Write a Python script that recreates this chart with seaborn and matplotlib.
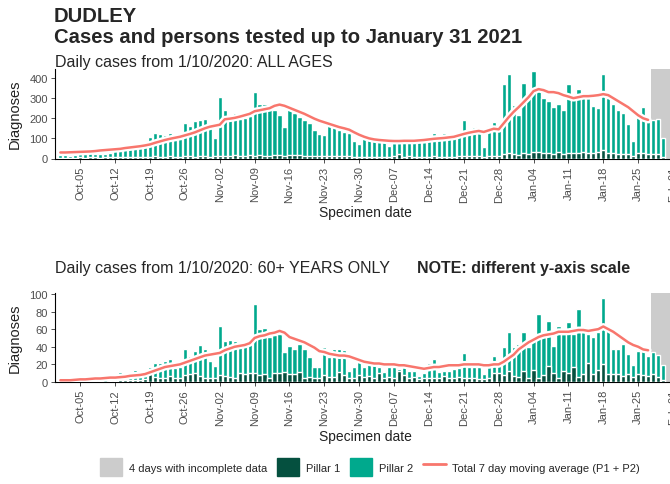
import numpy as np
import pandas as pd
import matplotlib
matplotlib.use('Agg')
import matplotlib.pyplot as plt
import matplotlib.patheffects as pe
from matplotlib.patches import Patch
from matplotlib.lines import Line2D
import seaborn as sns

sns.set_style('white')
plt.rcParams['font.family'] = ['Liberation Sans', 'DejaVu Sans']

# dates: bars from 1 Oct 2020 to 30 Jan 2021, moving average up to 27 Jan
dates = pd.date_range('2020-10-01', '2021-01-30', freq='D')
tick_dates = pd.date_range('2020-10-05', '2021-02-01', freq='7D')

# all ages: total daily cases (pillar 1 + pillar 2) and pillar 1
all_total = [15, 17, 14, 18, 20, 22, 25, 23, 20, 22, 28, 63, 45, 68, 48, 72, 50, 55, 105, 125, 120, 118, 125, 90, 95, 175, 160, 185, 190, 198, 150,
             102, 305, 240, 190, 225, 195, 200, 210, 333, 270, 270, 245, 242, 217, 158, 263, 225, 208, 192, 175, 142, 120, 118, 165, 158, 142, 133, 125, 85, 70,
             110, 105, 100, 95, 82, 62, 85, 95, 88, 90, 90, 80, 80, 110, 125, 90, 128, 100, 105, 112, 190, 140, 155, 125, 58, 160, 180, 150, 370, 420, 265,
             217, 375, 300, 437, 350, 300, 285, 258, 270, 240, 372, 315, 348, 305, 300, 262, 250, 422, 300, 270, 240, 228, 170, 85, 208, 255, 183, 190, 198, 100]
all_p1 = [3, 4, 3, 4, 5, 4, 5, 6, 4, 5, 6, 5, 7, 6, 8, 7, 6, 8, 9, 10, 8, 9, 10, 7, 8, 10, 12, 9, 11, 12, 9,
          10, 14, 12, 13, 15, 14, 12, 16, 14, 15, 13, 14, 16, 15, 12, 17, 15, 16, 14, 13, 12, 11, 11, 14, 13, 12, 11, 10, 8, 7,
          9, 8, 8, 7, 6, 5, 10, 20, 8, 12, 9, 8, 7, 9, 10, 8, 9, 8, 9, 10, 13, 11, 12, 10, 6, 12, 14, 11, 22, 25, 20,
          18, 28, 22, 30, 32, 25, 28, 24, 30, 22, 29, 27, 25, 30, 28, 26, 32, 40, 28, 25, 24, 22, 20, 12, 25, 28, 24, 22, 20, 8]
all_ma = [30, 30, 31, 32, 33, 34, 35, 37, 40, 42, 44, 46, 48, 52, 55, 58, 61, 65, 70, 78, 85, 92, 98, 103, 108, 115, 122, 130, 140, 150, 158,
          163, 168, 195, 198, 202, 208, 215, 222, 235, 240, 245, 250, 262, 268, 262, 252, 242, 232, 222, 210, 198, 188, 180, 172, 164, 156, 150, 143, 130, 118,
          108, 100, 95, 92, 90, 88, 87, 87, 88, 88, 88, 90, 92, 95, 98, 100, 102, 105, 108, 115, 122, 128, 133, 137, 132, 140, 148, 145, 175, 205, 232,
          255, 280, 305, 335, 345, 340, 330, 330, 325, 315, 308, 300, 305, 310, 310, 312, 315, 320, 315, 300, 285, 270, 255, 235, 215, 200, 192]

# 60+ years: total daily cases and pillar 1
old_total = [2, 2, 1, 2, 2, 3, 2, 3, 3, 2, 4, 3, 11, 5, 6, 14, 7, 8, 17, 21, 22, 24, 26, 16, 17, 38, 30, 35, 42, 37, 24,
             18, 64, 47, 48, 46, 41, 42, 45, 88, 60, 61, 51, 53, 55, 34, 41, 38, 43, 38, 28, 17, 17, 40, 28, 38, 38, 36, 13, 17, 24,
             17, 21, 19, 17, 11, 17, 17, 15, 17, 13, 13, 7, 10, 22, 26, 11, 12, 12, 15, 16, 33, 17, 17, 17, 9, 17, 30, 20, 40, 57, 40,
             43, 57, 40, 51, 77, 51, 69, 41, 64, 55, 68, 55, 83, 64, 55, 51, 57, 95, 59, 38, 38, 43, 32, 19, 35, 38, 29, 34, 31, 19]
old_p1 = [0, 1, 0, 1, 0, 1, 1, 1, 1, 0, 1, 1, 2, 2, 2, 2, 2, 3, 10, 6, 4, 5, 7, 4, 5, 8, 9, 10, 7, 5, 4,
          4, 8, 7, 6, 5, 10, 9, 10, 10, 8, 9, 5, 10, 10, 11, 9, 9, 11, 5, 6, 5, 4, 8, 6, 6, 11, 8, 5, 5, 8,
          6, 7, 4, 10, 4, 6, 5, 12, 8, 4, 6, 3, 4, 5, 5, 4, 7, 5, 4, 6, 5, 4, 5, 3, 3, 5, 10, 10, 8, 12, 7,
          6, 13, 5, 14, 5, 8, 18, 10, 5, 12, 10, 17, 6, 9, 22, 9, 14, 20, 9, 9, 9, 7, 9, 6, 9, 8, 7, 9, 6, 2]
old_ma = [2, 2, 2, 2.5, 3, 3, 3.5, 4, 4, 4.5, 5, 5, 5.5, 6, 7, 7.5, 8, 9, 11, 13, 15, 17, 18, 19, 20, 22, 24, 26, 28, 30, 31,
          32, 33, 36, 38, 40, 41, 42, 44, 50, 52, 53, 55, 56, 58, 56, 51, 49, 47, 45, 42, 39, 35, 34, 32, 31, 30, 30, 29, 27, 25,
          23, 22, 21, 21, 20, 20, 20, 19, 19, 18, 17, 16, 15, 16, 17, 17, 18, 19, 19, 19, 20, 20, 20, 20, 19, 19, 20, 20, 23, 27, 31,
          37, 41, 45, 48, 51, 53, 54, 55, 57, 57, 57, 58, 59, 59, 58, 59, 60, 63, 60, 57, 53, 49, 45, 42, 40, 37, 36]

GREY = '#CCCCCC'
DARK = '#05503F'
TEAL = '#00A98D'
RED = '#F8766D'

day_idx = np.arange(len(dates))
tick_idx = [(d - dates[0]).days for d in tick_dates]
tick_lab = [d.strftime('%b-%d') for d in tick_dates]


def draw_panel(ax, total, p1, ma, ymax, yticks):
    # last 4 days (28-31 Jan) incomplete
    ax.axvspan(118.5, 122.5, color=GREY, lw=0, zorder=0)
    sns.barplot(x=day_idx, y=total, native_scale=True, color=TEAL, saturation=1,
                width=0.85, errorbar=None, ax=ax, zorder=2)
    sns.barplot(x=day_idx, y=p1, native_scale=True, color=DARK, saturation=1,
                width=0.85, errorbar=None, ax=ax, zorder=3)
    sns.lineplot(x=day_idx[:len(ma)], y=ma, color=RED, lw=1.8, ax=ax, zorder=4,
                 path_effects=[pe.Stroke(linewidth=5, foreground='white'), pe.Normal()])
    ax.set_xlim(-1.08, 124)
    ax.set_ylim(0, ymax)
    ax.set_xticks(tick_idx)
    ax.set_xticklabels(tick_lab, rotation=90)
    ax.set_yticks(yticks)
    ax.set_xlabel('')
    ax.set_ylabel('')
    sns.despine(ax=ax)
    for s in ['left', 'bottom']:
        ax.spines[s].set_color('black')
        ax.spines[s].set_linewidth(0.8)
    ax.tick_params(axis='both', length=3, width=0.6, color='#333333',
                   labelsize=8, labelcolor='#4D4D4D', pad=2)
    ax.tick_params(axis='both', which='both', bottom=True, left=True)


W, H = 670, 485
fig = plt.figure(figsize=(6.7, 4.85), dpi=100)

ax1 = fig.add_axes([55 / W, 1 - 159.5 / H, 623 / W, 89.5 / H])
draw_panel(ax1, all_total, all_p1, all_ma, 445, [0, 100, 200, 300, 400])

ax2 = fig.add_axes([55 / W, 1 - 383 / H, 623 / W, 89 / H])
draw_panel(ax2, old_total, old_p1, old_ma, 101, [0, 20, 40, 60, 80, 100])

# titles
fig.text(54 / W, 1 - 17 / H, 'DUDLEY', fontsize=14.6, fontweight='bold', va='center')
fig.text(54 / W, 1 - 38 / H, 'Cases and persons tested up to January 31 2021',
         fontsize=14.6, fontweight='bold', va='center')
fig.text(55 / W, 1 - 63 / H, 'Daily cases from 1/10/2020: ALL AGES', fontsize=11.5, va='center')
fig.text(55 / W, 1 - 268 / H, 'Daily cases from 1/10/2020: 60+ YEARS ONLY', fontsize=11.5, va='center')
fig.text(417 / W, 1 - 268 / H, 'NOTE: different y-axis scale', fontsize=11.5,
         fontweight='bold', va='center')

# axis labels
for yc in [114.5, 338.5]:
    fig.text(15 / W, 1 - yc / H, 'Diagnoses', rotation=90, fontsize=10.5,
             ha='center', va='center', color='#222222')
for yc in [213, 437]:
    fig.text(365 / W, 1 - yc / H, 'Specimen date', fontsize=10,
             ha='center', va='center', color='#222222')

handles = [Patch(color=GREY), Patch(color=DARK), Patch(color=TEAL),
           Line2D([0], [0], color=RED, lw=2)]
labels = ['4 days with incomplete data', 'Pillar 1', 'Pillar 2',
          'Total 7 day moving average (P1 + P2)']
fig.legend(handles, labels, loc='center', bbox_to_anchor=(370 / W, 1 - 468 / H),
           ncol=4, frameon=False, fontsize=8, handlelength=2.0, handleheight=2.0,
           handletextpad=0.6, columnspacing=0.9)

fig.savefig('out.png', dpi=100)
